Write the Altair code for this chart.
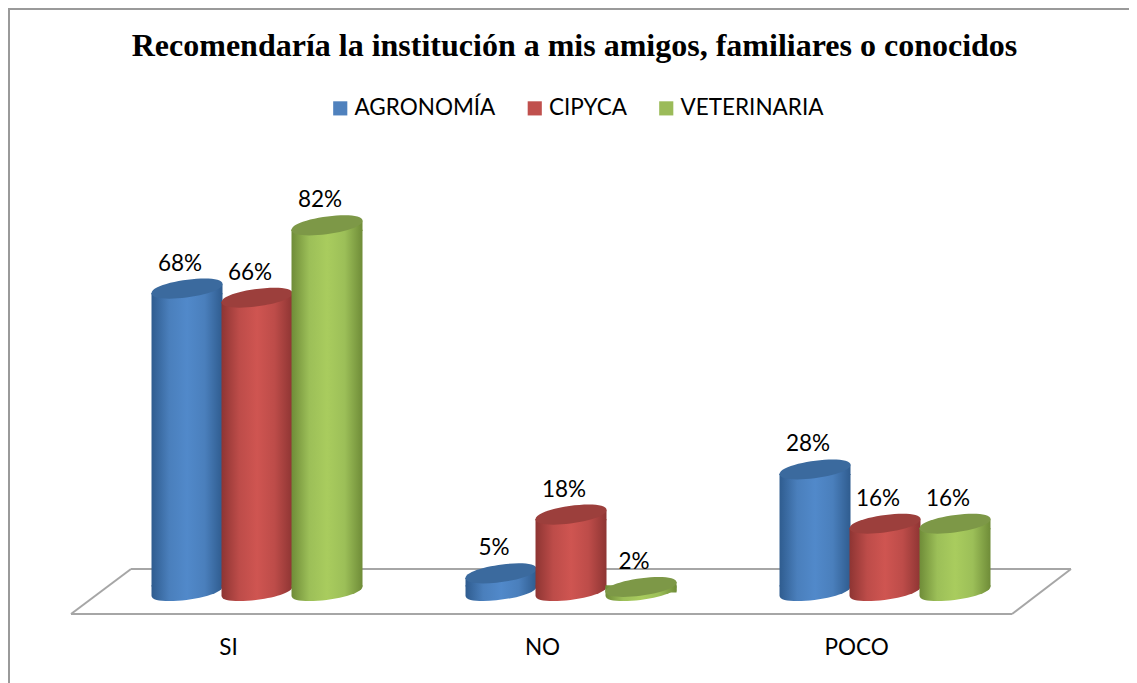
import altair as alt
import pandas as pd

categories = ["SI", "NO", "POCO"]
series = ["AGRONOMÍA", "CIPYCA", "VETERINARIA"]
agronomia = [68, 5, 28]
cipyca = [66, 18, 16]
veterinaria = [82, 2, 16]
title = "Recomendaría la institución a mis amigos, familiares o conocidos"

legend_colors = ["#4f81bd", "#c0504d", "#9bbb59"]
top_colors = ["#3b6a9e", "#9c3f3c", "#7d9847"]
body_stops = [
    ["#2f5c8f", "#4a7fbc", "#5189ca", "#4a7fbc", "#2f5c8f"],
    ["#8e3533", "#bd4c49", "#cf5551", "#bd4c49", "#8e3533"],
    ["#6f8c38", "#9cbf58", "#a9cc5e", "#9cbf58", "#6f8c38"],
]

W, H, PT, PB = 1121, 562, 55, 58
BAR = 71
SLOT = 70 / 314
BASE = 1.1
TILT = 1.0  # the drawn ellipses lean by about one value unit at each end
# tilted ellipse for the top of a cylinder
TOP = "M-1,0.13C-1,-0.20 1,-0.46 1,-0.13C1,0.20 -1,0.46 -1,0.13Z"
# wedge under the tilted top so the body meets the ellipse
WEDGE = "M-1,0.12L1,-0.14L1,0.16L-1,0.16Z"
# lower end of a cylinder, seen from slightly above
FOOT = "M-1,-0.16L1,-0.16L1,-0.13C1,0.20 -1,0.46 -1,0.13Z"
FONT = "Lato"
FS = 22.5

rows = []
for s_i, (name, vals) in enumerate(zip(series, [agronomia, cipyca, veterinaria])):
    for g_i, (cat, v) in enumerate(zip(categories, vals)):
        rows.append({"cat": cat, "series": name, "value": v, "base": BASE,
                     "body_top": v - TILT, "body_end": BASE + TILT,
                     "pos": g_i + (s_i - 1) * SLOT, "label": f"{v}%"})
df = pd.DataFrame(rows)

x_scale = alt.Scale(domain=[-0.793, 2.777], nice=False, zero=False, padding=0)
y_scale = alt.Scale(domain=[-6.42, 117.92], nice=False, zero=False)
tick_pos = [i - 29 / 314 for i in range(len(categories))]
label_expr = "['SI','NO','POCO'][round(datum.value + 0.0924)]"

x_enc = alt.X("pos:Q", scale=x_scale, title=None, axis=alt.Axis(
    values=tick_pos, labelExpr=label_expr, domain=False, ticks=False, grid=False,
    labelFont=FONT, labelFontSize=FS, labelColor="#000000", labelPadding=11,
    labelFlush=False, labelOverlap=False))
y_enc = alt.Y("value:Q", scale=y_scale, title=None, axis=None)


def edge(x1, y1, x2, y2, color="#a6a6a6", width=2):
    d = alt.Chart(pd.DataFrame({"k": [0]})).mark_rule(color=color, strokeWidth=width)
    return d.encode(x=alt.value(x1 - 8), x2=alt.value(x2 - 8),
                    y=alt.value(y1 - 8 - PT), y2=alt.value(y2 - 8 - PT))


layers = []
# outer frame
fc = "#9a9a9a"
layers += [edge(8, 9, 1129, 9, fc, 2), edge(9, 8, 9, 683, fc, 2)]
# floor
layers += [edge(131, 569, 1071, 569), edge(71, 614, 1012, 614),
           edge(71, 614, 131, 569), edge(1012, 614, 1071, 569)]

base = alt.Chart(df)
# invisible layer that carries the legend and the axis
layers.append(base.mark_square(opacity=0, size=10).encode(
    x=x_enc, y=y_enc,
    color=alt.Color("series:N", sort=series,
                    scale=alt.Scale(domain=series, range=legend_colors),
                    legend=alt.Legend(
                        orient="none", legendX=329 - 8, legendY=97 - 8 - PT,
                        direction="horizontal", columns=3, title=None,
                        symbolType="square", symbolSize=200, symbolOpacity=1,
                        symbolStrokeWidth=0, labelFont=FONT, labelFontSize=FS,
                        labelColor="#000000", columnPadding=27.5, labelOffset=3,
                        symbolOffset=0))))

for s_i, name in enumerate(series):
    sub = base.transform_filter(alt.datum.series == name)
    n = len(body_stops[s_i]) - 1
    grad = alt.LinearGradient(gradient="linear", x1=0, x2=1, y1=0, y2=0, stops=[
        alt.GradientStop(offset=i / n, color=c) for i, c in enumerate(body_stops[s_i])])
    x_pos = alt.X("pos:Q", scale=x_scale)
    layers.append(sub.mark_point(shape=FOOT, size=BAR ** 2, filled=True, fill=grad,
                                 opacity=1, strokeWidth=0).encode(
        x=x_pos, y=alt.Y("base:Q", scale=y_scale)))
    layers.append(sub.mark_bar(size=BAR, fill=grad, strokeWidth=0).encode(
        x=x_pos, y=alt.Y("body_top:Q", scale=y_scale), y2=alt.Y2("body_end:Q")))
    layers.append(sub.mark_point(shape=WEDGE, size=BAR ** 2, filled=True, fill=grad,
                                 opacity=1, strokeWidth=0).encode(
        x=x_pos, y=alt.Y("value:Q", scale=y_scale)))
    layers.append(sub.mark_point(shape=TOP, size=BAR ** 2, filled=True,
                                 fill=top_colors[s_i], opacity=1, strokeWidth=0).encode(
        x=x_pos, y=alt.Y("value:Q", scale=y_scale)))

layers.append(base.mark_text(font=FONT, fontSize=FS, color="#000000", dx=-7, dy=-25).encode(
    x=alt.X("pos:Q", scale=x_scale), y=alt.Y("value:Q", scale=y_scale), text="label:N"))

chart = alt.layer(*layers).properties(
    width=W, height=H,
    autosize=alt.AutoSizeParams(type="none"),
    padding={"left": 0, "right": 0, "top": PT, "bottom": PB},
    background="#ffffff",
    title=alt.TitleParams(title, font="Liberation Serif", fontSize=32, fontWeight="bold",
                          color="#000000", anchor="middle", dx=6, offset=-56),
).configure_view(stroke=None)

chart.save("out.html", embed_options={"renderer": "svg", "actions": False})
